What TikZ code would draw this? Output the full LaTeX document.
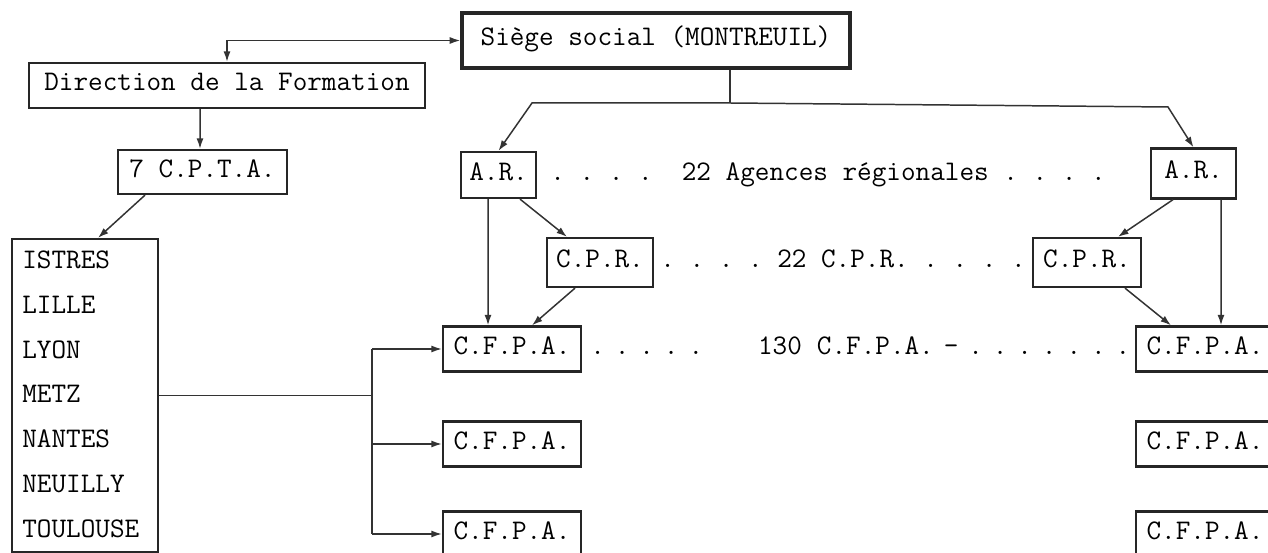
\documentclass[tikz,border=0pt]{standalone}
\usepackage{fontspec}
\usetikzlibrary{arrows.meta}
\frenchspacing

\begin{document}
\begin{tikzpicture}[x=0.02cm, y=-0.02cm, font=\ttfamily\fontsize{16.15}{19}\selectfont,
    every node/.style={text height=0.62em, text depth=0pt},
    cadre/.style={draw=black!85, line width=1.3pt, inner sep=0pt},
    trait/.style={draw=black!80, line width=0.85pt},
    >={Latex[length=6pt,width=4pt]}]
    \clip (0,0) rectangle (1268,553);
    % Rangees (y en pixels, vers le bas)
    \def\yAR{175}
    \def\yCPR{262.5}
    \def\yUn{349}
    \def\yDeux{444}
    \def\yTrois{534}

    % Siege, Direction, C.P.T.A.
    \node[cadre, line width=2pt, minimum width=7.76cm, minimum height=1.1cm] (siege) at (656,40.5) {Siège social (MONTREUIL)};
    \node[cadre, minimum width=7.92cm, minimum height=0.9cm] (direction) at (227,85.5) {Direction de la Formation};
    \node[cadre, minimum width=3.38cm, minimum height=0.88cm] (cpta) at (202.5,172) {7 C.P.T.A.};

    % Liste des centres
    \node[cadre, minimum width=2.92cm, minimum height=6.26cm] (villes) at (85,395.5) {};
    \foreach \v [count=\i] in {ISTRES,LILLE,LYON,METZ,NANTES,NEUILLY,TOULOUSE} {
      \node[anchor=west, inner sep=0pt] (ville\i) at (22,{263+(\i-1)*44.8}) {\v};
    }

    % Agences regionales et C.P.R.
    \node[cadre, minimum width=1.5cm, minimum height=0.92cm] (ar1) at (498.5,\yAR) {A.R.};
    \node[cadre, minimum width=1.7cm, minimum height=1.0cm] (ar2) at (1193.5,173.5) {A.R.};
    \node[cadre, minimum width=2.12cm, minimum height=0.98cm] (cpr1) at (600,\yCPR) {C.P.R.};
    \node[cadre, minimum width=2.16cm, minimum height=0.98cm] (cpr2) at (1087,\yCPR) {C.P.R.};

    % C.F.P.A.
    \foreach \y [count=\k] in {\yUn,\yDeux,\yTrois} {
      \node[cadre, minimum width=2.76cm, minimum height=0.9cm] (cfpaG\k) at (512,\y) {C.F.P.A.};
      \node[cadre, minimum width=2.76cm, minimum height=0.9cm] (cfpaD\k) at (1205,\y) {C.F.P.A.};
    }

    % Rangees en pointille
    \node[anchor=west, inner sep=0pt] (rangAR) at (550,\yAR) {. . . .~ 22 Agences régionales . . . .};
    \node[anchor=west, inner sep=0pt] (rangCPR) at (660,\yCPR) {. . . . 22 C.P.R. . . . .};
    \node[anchor=west, inner sep=0pt] (rangCFPA) at (590,\yUn) {\spaceskip=0.35em . . . . .\hspace{1.1cm}130\hspace{0.3cm}C.F.P.A. - . . . . . . .};

    % Liaisons
    \draw[trait, <->] (direction.north) |- (siege.west);
    \draw[trait, ->] ([xshift=-0.54cm]direction.south) -- ([xshift=-0.05cm]cpta.north);
    \draw[trait, ->] ([xshift=-1.15cm]cpta.south) -- ([xshift=0.26cm]villes.north);

    % Siege vers les agences
    \coordinate (noeud) at (730,103);
    \coordinate (coinG) at (532,103);
    \coordinate (coinD) at (1168,107);
    \draw[trait] (siege.south -| noeud) -- (noeud);
    \draw[trait, ->] (noeud) -- (coinG) -- (ar1.north);
    \draw[trait, ->] (noeud) -- (coinD) -- (ar2.north);

    \draw[trait, ->] ([xshift=-0.21cm]ar1.south) -- ([xshift=-0.48cm]cfpaG1.north);
    \draw[trait, ->] ([xshift=0.43cm]ar1.south) -- ([xshift=-0.66cm]cpr1.north);
    \draw[trait, ->] ([xshift=-0.5cm]cpr1.south) -- ([xshift=0.4cm]cfpaG1.north);
    \draw[trait, ->] ([xshift=-0.41cm]ar2.south) -- ([xshift=0.62cm]cpr2.north);
    \draw[trait, ->] ([xshift=0.55cm]ar2.south) -- ([xshift=0.32cm]cfpaD1.north);
    \draw[trait, ->] ([xshift=0.76cm]cpr2.south) -- ([xshift=-0.68cm]cfpaD1.north);

    % Liste vers les C.F.P.A.
    \coordinate (branche) at (372,395.5);
    \draw[trait] (villes.east) -- (branche);
    \draw[trait] (branche |- cfpaG1.west) -- (branche |- cfpaG3.west);
    \foreach \k in {1,2,3} \draw[trait, ->] (branche |- cfpaG\k.west) -- (cfpaG\k.west);
\end{tikzpicture}
\end{document}
